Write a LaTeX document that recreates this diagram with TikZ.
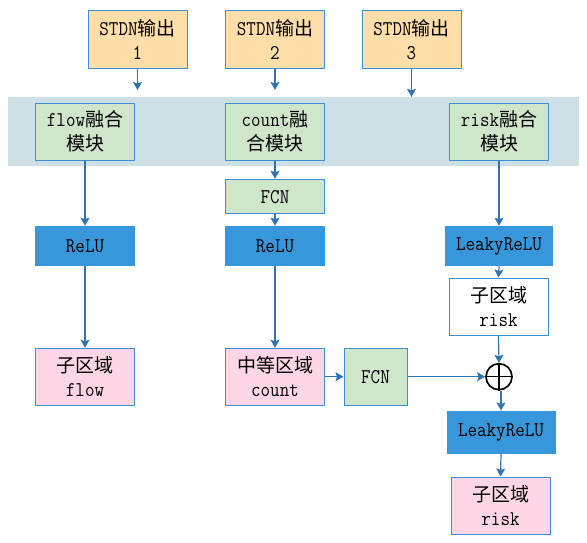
\documentclass[tikz,border=0pt]{standalone}
\usepackage{fontspec}
\setmonofont{Latin Modern Mono}[FakeStretch=0.88]
\newfontfamily\cjkfont{Noto Sans CJK SC}
\newcommand\zh[1]{{\fontsize{19}{24}\selectfont\cjkfont #1}}
\usetikzlibrary{arrows.meta}
\definecolor{bordblue}{HTML}{3C8FD6}
\definecolor{arrblue}{HTML}{2E74B0}
\definecolor{orangefill}{HTML}{FFDEA9}
\definecolor{greenfill}{HTML}{CFE6CB}
\definecolor{pinkfill}{HTML}{FFD6E5}
\definecolor{relublue}{HTML}{3797DA}
\definecolor{bandfill}{HTML}{CDE0E6}
\tikzset{
  box/.style={draw=bordblue, line width=1pt, align=center, inner sep=0pt,
    font=\fontsize{21}{24}\selectfont\ttfamily, text=black},
  inbox/.style={box, fill=orangefill, minimum width=99pt, minimum height=57.5pt},
  modbox/.style={box, fill=greenfill, minimum width=99pt, minimum height=57pt},
  fcnbox/.style={box, fill=greenfill},
  actbox/.style={box, draw=relublue, fill=relublue},
  outbox/.style={box, fill=pinkfill, minimum width=99pt, minimum height=57pt},
  whitebox/.style={box, fill=white, minimum width=99pt, minimum height=57pt},
  conn/.style={draw=arrblue, line width=1.2pt,
    -{Stealth[length=8pt,width=9pt,inset=1.5pt]}},
}
\begin{document}
\begin{tikzpicture}[x=1pt,y=-1pt]
\useasboundingbox (0,0) rectangle (587,542);
% band
\node[fill=bandfill, inner sep=0pt, minimum width=571pt, minimum height=68.7pt] (band) at (293.5,131.35) {};
% inputs
\node[inbox] (s1) at (137.5,39.3) {STDN\zh{输出}\\1};
\node[inbox] (s2) at (275,39.3) {STDN\zh{输出}\\2};
\node[inbox] (s3) at (411.5,39.3) {STDN\zh{输出}\\3};
% modules
\node[modbox] (fm) at (85,131.5) {flow\zh{融合}\\\zh{模块}};
\node[modbox] (cm) at (275,131.5) {count\zh{融}\\\zh{合模块}};
\node[modbox] (rm) at (499,131.5) {risk\zh{融合}\\\zh{模块}};
% FCN 1
\node[fcnbox, minimum width=99pt, minimum height=34.7pt] (fcn1) at (275,196.6) {FCN};
% activations
\node[actbox, minimum width=99pt, minimum height=39.7pt] (relu1) at (85,246) {ReLU};
\node[actbox, minimum width=99pt, minimum height=39.7pt] (relu2) at (275,246) {ReLU};
\node[actbox, minimum width=107.7pt, minimum height=39.7pt] (lr1) at (499,246) {LeakyReLU};
% sub-region risk (white)
\node[whitebox] (sr) at (498.5,306.5) {\zh{子区域}\\risk};
% outputs
\node[outbox] (fo) at (85,376.7) {\zh{子区域}\\flow};
\node[outbox] (co) at (275,376.7) {\zh{中等区域}\\count};
\node[fcnbox, minimum width=63pt, minimum height=57pt] (fcn2) at (375.5,376.7) {FCN};
% plus
\node[draw=black, line width=1.7pt, circle, minimum size=26pt, inner sep=0pt] (plus) at (499,376.7) {};
\draw[line width=1.3pt] (plus.north) -- (plus.south) (plus.west) -- (plus.east);
\node[actbox, minimum width=108pt, minimum height=42.3pt] (lr2) at (501,432.2) {LeakyReLU};
\node[outbox] (ro) at (500.5,505.5) {\zh{子区域}\\risk};
% free ends
\coordinate (e1) at (137.5,90);
\coordinate (e2) at (275,90);
% connectors
\draw[conn] (s1.south) -- (e1);
\draw[conn] (s2.south) -- (e2);
\draw[conn] (s3.south) -- (s3.south |- band.north);
\draw[conn] (fm.south) -- (relu1.north);
\draw[conn] (cm.south) -- (fcn1.north);
\draw[conn] (fcn1.south) -- (relu2.north);
\draw[conn] (rm.south) -- (lr1.north);
\draw[conn] (lr1.south) -- (sr.north);
\draw[conn] (relu1.south) -- (fo.north);
\draw[conn] (relu2.south) -- (co.north);
\draw[conn] (co.east) -- (fcn2.west);
\draw[conn] (fcn2.east) -- (plus.west);
\draw[conn] (sr.south) -- (plus.north);
\draw[conn] (plus.south -| lr2.north) -- (lr2.north);
\draw[conn] (lr2.south) -- (ro.north);
\end{tikzpicture}
\end{document}
